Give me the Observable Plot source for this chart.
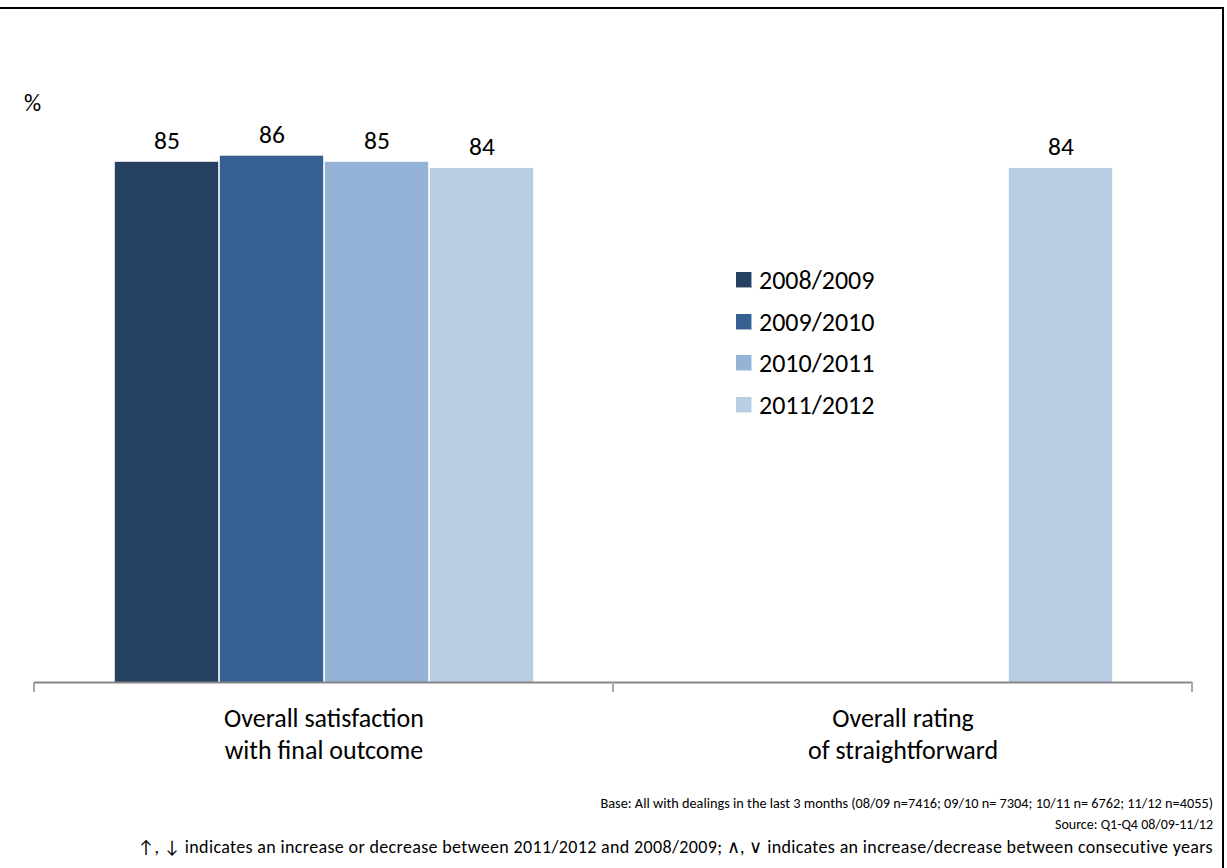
<!DOCTYPE html>
<html>
<head>
<meta charset="utf-8">
<script src="https://cdn.jsdelivr.net/npm/d3@7"></script>
<script src="https://cdn.jsdelivr.net/npm/@observablehq/plot@0.6"></script>
<style>
  html, body { margin: 0; padding: 0; background: #fff; }
  #wrap { position: relative; width: 1227px; height: 868px; overflow: hidden;
          font-family: Calibri, Carlito, Lato, "Open Sans", sans-serif; color: #000; }
  #border { position: absolute; top: 7px; left: 0; width: 1224px; height: 870px;
            border-top: 2px solid #000; border-right: 2px solid #000; box-sizing: border-box; }
  #chart { position: absolute; top: 0; left: 0; }
  .unit { position: absolute; left: 24px; top: 91px; font-size: 24px; line-height: 1; }
  .legend-row { position: absolute; left: 736px; height: 26px; display: flex; align-items: center;
                font-size: 26px; line-height: 1; white-space: nowrap; }
  .legend-row .sw { width: 16px; height: 16px; margin-right: 7px; box-sizing: border-box;
                    border-right: 1px solid rgba(255,255,255,0.55); border-bottom: 1px solid rgba(255,255,255,0.55); }
  .note { position: absolute; right: 14px; line-height: 1; white-space: nowrap; }
</style>
</head>
<body>
<div id="wrap">
  <div id="border"></div>
  <div id="chart"></div>
  <div class="unit">%</div>
  <div id="legend"></div>
  <div id="notes"></div>
</div>
<script>
// Survey measures shown along the bottom axis
const categories = ["Overall satisfaction\nwith final outcome", "Overall rating\nof straightforward"];
// Survey years (one bar per year)
const years = ["2008/2009", "2009/2010", "2010/2011", "2011/2012"];
const yearColors = ["#254061", "#376092", "#95B3D7", "#B9CDE5"];
// Percentages per measure; the second measure was only asked in 2011/2012
const satisfactionValues = [85, 86, 85, 84];
const ratingValues = [null, null, null, 84];

const notes = [
  "Base: All with dealings in the last 3 months (08/09 n=7416; 09/10 n= 7304; 10/11 n= 6762;  11/12 n=4055)",
  "Source: Q1-Q4 08/09-11/12",
  "↑, ↓ indicates an increase or decrease between 2011/2012 and 2008/2009;  ∧, ∨ indicates an increase/decrease between consecutive years"
];
const noteSizes = [14.3, 14, 18];
const noteSpacing = [0, 0, 0.35];

const rows = [];
[satisfactionValues, ratingValues].forEach((vals, ci) => {
  vals.forEach((v, yi) => {
    if (v != null) rows.push({category: categories[ci], year: years[yi], value: v});
  });
});

const W = 1227, H = 780;
const chart = Plot.plot({
  width: W,
  height: H,
  marginLeft: 33,
  marginRight: 35,
  marginTop: 70,
  marginBottom: H - 682,
  style: {fontFamily: "Calibri, Carlito, Lato, 'Open Sans', sans-serif", fontSize: "26px", color: "#000", background: "transparent"},
  fx: {domain: categories, padding: 0},
  x: {domain: years, paddingInner: 0, paddingOuter: 0.74, axis: null},
  y: {domain: [0, 100], axis: null},
  color: {domain: years, range: yearColors},
  marks: [
    Plot.barY(rows, {fx: "category", x: "year", y: "value", fill: "year", insetLeft: 0.8, insetRight: 0.8}),
    Plot.text(rows, {fx: "category", x: "year", y: "value", text: d => String(d.value),
                     lineAnchor: "bottom", dy: -13, fontSize: 25.5, fill: "#000"}),
    Plot.ruleY([0], {stroke: "#868686", strokeWidth: 2}),
    Plot.axisFx({anchor: "bottom", label: null, tickSize: 0, tickPadding: 22,
                 fontSize: 26, lineHeight: 1.23, fill: "#000"})
  ]
});
document.getElementById("chart").appendChild(chart);

// small tick marks at the category boundaries, below the baseline
const fxs = chart.scale("fx");
const ys = chart.scale("y");
const edges = categories.map(c => fxs.apply(c)).concat([fxs.apply(categories[categories.length - 1]) + fxs.bandwidth]);
const y0 = ys.apply(0);
d3.select(chart).append("g")
  .selectAll("line").data(edges).join("line")
  .attr("x1", d => d).attr("x2", d => d)
  .attr("y1", y0).attr("y2", y0 + 10)
  .attr("stroke", "#a6a6a6").attr("stroke-width", 2);

// legend
const legend = d3.select("#legend");
years.forEach((yr, i) => {
  const row = legend.append("div").attr("class", "legend-row").style("top", (267 + i * 41.7) + "px");
  row.append("div").attr("class", "sw").style("background", yearColors[i]);
  row.append("span").text(yr);
});

// footnotes
const notesDiv = d3.select("#notes");
notes.forEach((t, i) => {
  notesDiv.append("div").attr("class", "note")
    .style("top", (796 + i * 22 - (noteSizes[i] - 14) / 2) + "px")
    .style("font-size", noteSizes[i] + "px")
    .style("letter-spacing", noteSpacing[i] + "px")
    .text(t);
});
</script>
</body>
</html>
